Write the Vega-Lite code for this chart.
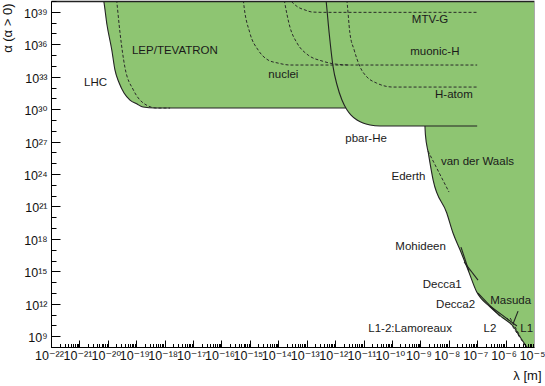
{
  "$schema": "https://vega.github.io/schema/vega-lite/v6.json",
  "width": 483,
  "height": 346,
  "autosize": {"type": "none"},
  "padding": {"left": 51, "top": 1, "right": 11, "bottom": 39},
  "background": "white",
  "config": {
    "view": {"stroke": null},
    "axis": {
      "grid": false,
      "domainColor": "#000",
      "tickColor": "#000",
      "labelColor": "#111",
      "labelFont": "Liberation Sans, DejaVu Sans, sans-serif",
      "labelFontSize": 12.5,
      "titleFont": "Liberation Sans, DejaVu Sans, sans-serif",
      "titleFontSize": 13,
      "titleFontWeight": "normal",
      "titleColor": "#111",
      "labelOverlap": false,
      "labelFlush": false
    }
  },
  "datasets": {
    "boundary": [
      {"lambda": 5.62e-21, "alpha": 1e41},
      {"lambda": 7.08e-21, "alpha": 1.26e40},
      {"lambda": 9.33e-21, "alpha": 6.31e37},
      {"lambda": 1.38e-20, "alpha": 2.95e35},
      {"lambda": 1.78e-20, "alpha": 4.17e33},
      {"lambda": 2.51e-20, "alpha": 2.57e32},
      {"lambda": 3.72e-20, "alpha": 3.09e31},
      {"lambda": 6.03e-20, "alpha": 6.92e30},
      {"lambda": 1.07e-19, "alpha": 2.95e30},
      {"lambda": 1.74e-19, "alpha": 1.55e30},
      {"lambda": 4.57e-19, "alpha": 1.26e30},
      {"lambda": 2.40e-12, "alpha": 1.26e30},
      {"lambda": 2.63e-12, "alpha": 8.32e29},
      {"lambda": 3.63e-12, "alpha": 2.82e29},
      {"lambda": 5.89e-12, "alpha": 9.77e28},
      {"lambda": 9.55e-12, "alpha": 5.13e28},
      {"lambda": 1.70e-11, "alpha": 3.39e28},
      {"lambda": 3.80e-11, "alpha": 2.75e28},
      {"lambda": 1.45e-9, "alpha": 2.75e28},
      {"lambda": 1.51e-9, "alpha": 3.98e27},
      {"lambda": 1.91e-9, "alpha": 8.71e25},
      {"lambda": 2.82e-9, "alpha": 2.75e23},
      {"lambda": 8.51e-9, "alpha": 2.45e20},
      {"lambda": 1.41e-8, "alpha": 3.47e18},
      {"lambda": 2.51e-8, "alpha": 9.33e16},
      {"lambda": 4.79e-8, "alpha": 1.32e15},
      {"lambda": 9.55e-8, "alpha": 1.29e13},
      {"lambda": 2.82e-7, "alpha": 5.25e11},
      {"lambda": 8.13e-7, "alpha": 4.79e10},
      {"lambda": 1.82e-6, "alpha": 8.71e9},
      {"lambda": 3.24e-6, "alpha": 8.32e8},
      {"lambda": 5.62e-6, "alpha": 9.77e7},
      {"lambda": 1e-5, "alpha": 1.17e7}
    ],
    "solid": [
      {"curve": "LHC", "seq": 1, "lambda": 5.62e-21, "alpha": 1e41},
      {"curve": "LHC", "seq": 2, "lambda": 7.08e-21, "alpha": 1.26e40},
      {"curve": "LHC", "seq": 3, "lambda": 9.33e-21, "alpha": 6.31e37},
      {"curve": "LHC", "seq": 4, "lambda": 1.38e-20, "alpha": 2.95e35},
      {"curve": "LHC", "seq": 5, "lambda": 1.78e-20, "alpha": 4.17e33},
      {"curve": "LHC", "seq": 6, "lambda": 2.51e-20, "alpha": 2.57e32},
      {"curve": "LHC", "seq": 7, "lambda": 3.72e-20, "alpha": 3.09e31},
      {"curve": "LHC", "seq": 8, "lambda": 6.03e-20, "alpha": 6.92e30},
      {"curve": "LHC", "seq": 9, "lambda": 1.07e-19, "alpha": 2.95e30},
      {"curve": "LHC", "seq": 10, "lambda": 1.74e-19, "alpha": 1.55e30},
      {"curve": "LHC", "seq": 11, "lambda": 4.57e-19, "alpha": 1.26e30},
      {"curve": "LHC", "seq": 12, "lambda": 2.40e-12, "alpha": 1.26e30},
      {"curve": "pbar-He", "seq": 1, "lambda": 4.37e-13, "alpha": 1.05e41},
      {"curve": "pbar-He", "seq": 2, "lambda": 4.79e-13, "alpha": 1.23e40},
      {"curve": "pbar-He", "seq": 3, "lambda": 6.17e-13, "alpha": 1.10e37},
      {"curve": "pbar-He", "seq": 4, "lambda": 8.51e-13, "alpha": 7.76e33},
      {"curve": "pbar-He", "seq": 5, "lambda": 1.17e-12, "alpha": 1.70e32},
      {"curve": "pbar-He", "seq": 6, "lambda": 1.74e-12, "alpha": 6.92e30},
      {"curve": "pbar-He", "seq": 7, "lambda": 2.63e-12, "alpha": 8.32e29},
      {"curve": "pbar-He", "seq": 8, "lambda": 3.63e-12, "alpha": 2.82e29},
      {"curve": "pbar-He", "seq": 9, "lambda": 5.89e-12, "alpha": 9.77e28},
      {"curve": "pbar-He", "seq": 10, "lambda": 9.55e-12, "alpha": 5.13e28},
      {"curve": "pbar-He", "seq": 11, "lambda": 1.70e-11, "alpha": 3.39e28},
      {"curve": "pbar-He", "seq": 12, "lambda": 3.80e-11, "alpha": 2.75e28},
      {"curve": "pbar-He", "seq": 13, "lambda": 1e-7, "alpha": 2.75e28},
      {"curve": "Ederth", "seq": 1, "lambda": 1.45e-9, "alpha": 2.75e28},
      {"curve": "Ederth", "seq": 2, "lambda": 1.51e-9, "alpha": 3.98e27},
      {"curve": "Ederth", "seq": 3, "lambda": 1.91e-9, "alpha": 8.71e25},
      {"curve": "Ederth", "seq": 4, "lambda": 2.82e-9, "alpha": 2.75e23},
      {"curve": "Ederth", "seq": 5, "lambda": 8.51e-9, "alpha": 2.45e20},
      {"curve": "Ederth", "seq": 6, "lambda": 1.41e-8, "alpha": 3.47e18},
      {"curve": "Ederth", "seq": 7, "lambda": 2.51e-8, "alpha": 9.33e16},
      {"curve": "Ederth", "seq": 8, "lambda": 4.79e-8, "alpha": 1.32e15},
      {"curve": "Ederth", "seq": 9, "lambda": 9.55e-8, "alpha": 1.29e13},
      {"curve": "Ederth", "seq": 10, "lambda": 2.82e-7, "alpha": 5.25e11},
      {"curve": "Ederth", "seq": 11, "lambda": 8.13e-7, "alpha": 4.79e10},
      {"curve": "Ederth", "seq": 12, "lambda": 1.82e-6, "alpha": 8.71e9},
      {"curve": "Ederth", "seq": 13, "lambda": 3.24e-6, "alpha": 8.32e8},
      {"curve": "Ederth", "seq": 14, "lambda": 5.62e-6, "alpha": 9.77e7},
      {"curve": "Mohideen", "seq": 1, "lambda": 2.69e-8, "alpha": 1.74e17},
      {"curve": "Mohideen", "seq": 2, "lambda": 5.13e-8, "alpha": 1.05e15},
      {"curve": "Decca1", "seq": 1, "lambda": 3.47e-8, "alpha": 7.24e15},
      {"curve": "Decca1", "seq": 2, "lambda": 1.07e-7, "alpha": 1.55e14},
      {"curve": "Decca2", "seq": 1, "lambda": 1.07e-7, "alpha": 9.77e12},
      {"curve": "Decca2", "seq": 2, "lambda": 6.31e-7, "alpha": 7.24e10},
      {"curve": "Masuda", "seq": 1, "lambda": 2.75e-6, "alpha": 2.09e11},
      {"curve": "Masuda", "seq": 2, "lambda": 1.82e-6, "alpha": 1.32e10},
      {"curve": "L2", "seq": 1, "lambda": 2.82e-7, "alpha": 6.17e11},
      {"curve": "L2", "seq": 2, "lambda": 2.51e-6, "alpha": 8.71e9}
    ],
    "dashed": [
      {"curve": "LEP/TEVATRON", "seq": 1, "lambda": 1.95e-20, "alpha": 3.55e40},
      {"curve": "LEP/TEVATRON", "seq": 2, "lambda": 2.04e-20, "alpha": 1.23e40},
      {"curve": "LEP/TEVATRON", "seq": 3, "lambda": 2.69e-20, "alpha": 1.10e37},
      {"curve": "LEP/TEVATRON", "seq": 4, "lambda": 3.98e-20, "alpha": 7.76e33},
      {"curve": "LEP/TEVATRON", "seq": 5, "lambda": 7.94e-20, "alpha": 5.89e31},
      {"curve": "LEP/TEVATRON", "seq": 6, "lambda": 1.78e-19, "alpha": 3.63e30},
      {"curve": "LEP/TEVATRON", "seq": 7, "lambda": 5.25e-19, "alpha": 1.26e30},
      {"curve": "LEP/TEVATRON", "seq": 8, "lambda": 1.55e-18, "alpha": 1.26e30},
      {"curve": "nuclei", "seq": 1, "lambda": 5.75e-16, "alpha": 3.55e40},
      {"curve": "nuclei", "seq": 2, "lambda": 5.89e-16, "alpha": 1.23e40},
      {"curve": "nuclei", "seq": 3, "lambda": 1e-15, "alpha": 1.10e37},
      {"curve": "nuclei", "seq": 4, "lambda": 1.95e-15, "alpha": 2.95e35},
      {"curve": "nuclei", "seq": 5, "lambda": 4.37e-15, "alpha": 3.47e34},
      {"curve": "nuclei", "seq": 6, "lambda": 9.77e-15, "alpha": 1.82e34},
      {"curve": "nuclei", "seq": 7, "lambda": 2.57e-14, "alpha": 1.20e34},
      {"curve": "nuclei", "seq": 8, "lambda": 1e-7, "alpha": 1.20e34},
      {"curve": "muonic-H", "seq": 1, "lambda": 1.51e-14, "alpha": 3.55e40},
      {"curve": "muonic-H", "seq": 2, "lambda": 1.62e-14, "alpha": 1.23e40},
      {"curve": "muonic-H", "seq": 3, "lambda": 2.57e-14, "alpha": 3.89e37},
      {"curve": "muonic-H", "seq": 4, "lambda": 4.57e-14, "alpha": 1.29e36},
      {"curve": "muonic-H", "seq": 5, "lambda": 1.12e-13, "alpha": 1e35},
      {"curve": "muonic-H", "seq": 6, "lambda": 3.47e-13, "alpha": 2.82e34},
      {"curve": "muonic-H", "seq": 7, "lambda": 1e-12, "alpha": 1.48e34},
      {"curve": "muonic-H", "seq": 8, "lambda": 3.31e-12, "alpha": 1.20e34},
      {"curve": "MTV-G", "seq": 1, "lambda": 2.19e-14, "alpha": 1.91e40},
      {"curve": "MTV-G", "seq": 2, "lambda": 2.57e-14, "alpha": 1.23e40},
      {"curve": "MTV-G", "seq": 3, "lambda": 4.90e-14, "alpha": 2.75e39},
      {"curve": "MTV-G", "seq": 4, "lambda": 8.71e-14, "alpha": 1.48e39},
      {"curve": "MTV-G", "seq": 5, "lambda": 1.55e-13, "alpha": 9.55e38},
      {"curve": "MTV-G", "seq": 6, "lambda": 4.37e-13, "alpha": 8.91e38},
      {"curve": "MTV-G", "seq": 7, "lambda": 1e-7, "alpha": 8.91e38},
      {"curve": "H-atom", "seq": 1, "lambda": 2.40e-12, "alpha": 3.55e40},
      {"curve": "H-atom", "seq": 2, "lambda": 2.57e-12, "alpha": 1.23e40},
      {"curve": "H-atom", "seq": 3, "lambda": 3.31e-12, "alpha": 1.10e37},
      {"curve": "H-atom", "seq": 4, "lambda": 4.68e-12, "alpha": 2.95e35},
      {"curve": "H-atom", "seq": 5, "lambda": 7.59e-12, "alpha": 7.76e33},
      {"curve": "H-atom", "seq": 6, "lambda": 1.32e-11, "alpha": 9.33e32},
      {"curve": "H-atom", "seq": 7, "lambda": 2.88e-11, "alpha": 2.57e32},
      {"curve": "H-atom", "seq": 8, "lambda": 1.10e-10, "alpha": 1.10e32},
      {"curve": "H-atom", "seq": 9, "lambda": 1e-7, "alpha": 1.10e32},
      {"curve": "van der Waals", "seq": 1, "lambda": 1.86e-9, "alpha": 1.32e26},
      {"curve": "van der Waals", "seq": 2, "lambda": 1.02e-8, "alpha": 2.14e22},
      {"curve": "L1", "seq": 1, "lambda": 1.12e-6, "alpha": 4.79e10},
      {"curve": "L1", "seq": 2, "lambda": 5.62e-6, "alpha": 7.94e7},
      {"curve": "L1b", "seq": 1, "lambda": 1.45e-6, "alpha": 4.79e10},
      {"curve": "L1b", "seq": 2, "lambda": 3.24e-6, "alpha": 1.02e9}
    ],
    "labels": [
      {"label": "LHC", "lambda": 3.72e-21, "alpha": 2.75e32},
      {"label": "LEP/TEVATRON", "lambda": 2.29e-18, "alpha": 2.51e35},
      {"label": "nuclei", "lambda": 1.51e-14, "alpha": 1.41e33},
      {"label": "MTV-G", "lambda": 2.19e-9, "alpha": 1.74e38},
      {"label": "muonic-H", "lambda": 3.24e-9, "alpha": 1.78e35},
      {"label": "H-atom", "lambda": 1.51e-8, "alpha": 2.0e31},
      {"label": "pbar-He", "lambda": 1.23e-11, "alpha": 1.70e27},
      {"label": "van der Waals", "lambda": 1.02e-7, "alpha": 1.20e25},
      {"label": "Ederth", "lambda": 3.80e-10, "alpha": 4.90e23},
      {"label": "Mohideen", "lambda": 1.02e-9, "alpha": 1.86e17},
      {"label": "Decca1", "lambda": 5.89e-9, "alpha": 5.37e13},
      {"label": "Decca2", "lambda": 1.74e-8, "alpha": 7.59e11},
      {"label": "Masuda", "lambda": 1.51e-6, "alpha": 1.91e12},
      {"label": "L1-2:Lamoreaux", "lambda": 4.37e-10, "alpha": 4.57e9},
      {"label": "L2", "lambda": 2.82e-7, "alpha": 4.57e9},
      {"label": "L1", "lambda": 5.50e-6, "alpha": 4.57e9}
    ]
  },
  "resolve": {"axis": {"x": "independent", "y": "independent"}},
  "layer": [
    {
      "data": {"name": "boundary"},
      "mark": {"type": "area", "color": "#8ec572", "clip": true, "interpolate": "monotone", "opacity": 1},
      "encoding": {
        "x": {
          "field": "lambda", "type": "quantitative",
          "scale": {"type": "log", "domain": [1e-22, 1e-5], "nice": false},
          "axis": {
            "orient": "bottom", "zindex": 1,
            "values": [1e-22, 1e-21, 1e-20, 1e-19, 1e-18, 1e-17, 1e-16, 1e-15, 1e-14, 1e-13, 1e-12, 1e-11, 1e-10, 1e-9, 1e-8, 1e-7, 1e-6, 1e-5],
            "tickSize": -7, "labelPadding": 9, "labelOffset": -2, "domainWidth": 1,
            "labelExpr": "'10' + replace(replace(replace(replace(replace(replace(replace(replace(replace(replace(replace('' + round(log(datum.value)/LN10), regexp('-','g'), '⁻'), regexp('0','g'), '⁰'), regexp('1','g'), '¹'), regexp('2','g'), '²'), regexp('3','g'), '³'), regexp('4','g'), '⁴'), regexp('5','g'), '⁵'), regexp('6','g'), '⁶'), regexp('7','g'), '⁷'), regexp('8','g'), '⁸'), regexp('9','g'), '⁹')",
            "title": "λ [m]", "titleX": 490, "titleY": 28, "titleAlign": "right", "titleBaseline": "middle"
          }
        },
        "y": {
          "field": "alpha", "type": "quantitative",
          "scale": {"type": "log", "domain": [1e8, 1e40], "nice": false},
          "axis": {
            "orient": "left", "zindex": 1,
            "values": [1e9, 1e12, 1e15, 1e18, 1e21, 1e24, 1e27, 1e30, 1e33, 1e36, 1e39],
            "tickSize": -9, "labelPadding": 13, "labelOffset": 1.5, "domainWidth": 1,
            "labelExpr": "'10' + replace(replace(replace(replace(replace(replace(replace(replace(replace(replace(replace('' + round(log(datum.value)/LN10), regexp('-','g'), '⁻'), regexp('0','g'), '⁰'), regexp('1','g'), '¹'), regexp('2','g'), '²'), regexp('3','g'), '³'), regexp('4','g'), '⁴'), regexp('5','g'), '⁵'), regexp('6','g'), '⁶'), regexp('7','g'), '⁷'), regexp('8','g'), '⁸'), regexp('9','g'), '⁹')",
            "title": "α (α > 0)", "titleAngle": -90, "titleX": -44, "titleY": 2, "titleAlign": "right", "titleBaseline": "middle"
          }
        },
        "y2": {"datum": 1e40}
      }
    },
    {
      "data": {"name": "solid"},
      "mark": {"type": "line", "color": "#222222", "strokeWidth": 1.1, "clip": true, "interpolate": "monotone"},
      "encoding": {
        "x": {
          "field": "lambda", "type": "quantitative",
          "scale": {"type": "log", "domain": [1e-22, 1e-5], "nice": false},
          "axis": {"orient": "bottom", "zindex": 1, "tickCount": 60, "tickSize": -3.5, "labels": false, "domain": false, "title": null}
        },
        "y": {
          "field": "alpha", "type": "quantitative",
          "scale": {"type": "log", "domain": [1e8, 1e40], "nice": false},
          "axis": {
            "orient": "left", "zindex": 1,
            "values": [1e8, 1e9, 1e10, 1e11, 1e12, 1e13, 1e14, 1e15, 1e16, 1e17, 1e18, 1e19, 1e20, 1e21, 1e22, 1e23, 1e24, 1e25, 1e26, 1e27, 1e28, 1e29, 1e30, 1e31, 1e32, 1e33, 1e34, 1e35, 1e36, 1e37, 1e38, 1e39, 1e40],
            "tickSize": -5, "labels": false, "domain": false, "title": null
          }
        },
        "detail": {"field": "curve"},
        "order": {"field": "seq", "type": "quantitative"}
      }
    },
    {
      "data": {"name": "dashed"},
      "mark": {"type": "line", "color": "#2a2a2a", "strokeWidth": 1, "strokeDash": [3, 2], "clip": true, "interpolate": "monotone"},
      "encoding": {
        "x": {
          "field": "lambda", "type": "quantitative",
          "scale": {"type": "log", "domain": [1e-22, 1e-5], "nice": false},
          "axis": {"orient": "top", "zindex": 1, "ticks": false, "labels": false, "domain": true, "domainWidth": 1.5, "domainColor": "#222", "title": null}
        },
        "y": {
          "field": "alpha", "type": "quantitative",
          "scale": {"type": "log", "domain": [1e8, 1e40], "nice": false},
          "axis": {"orient": "right", "zindex": 1, "ticks": false, "labels": false, "domain": true, "domainColor": "#aaaaaa", "domainWidth": 1, "title": null}
        },
        "detail": {"field": "curve"},
        "order": {"field": "seq", "type": "quantitative"}
      }
    },
    {
      "data": {"name": "labels"},
      "mark": {"type": "text", "font": "Liberation Sans", "fontSize": 11.5, "color": "#1a1a1a", "align": "center", "baseline": "middle"},
      "encoding": {
        "x": {"field": "lambda", "type": "quantitative", "scale": {"type": "log", "domain": [1e-22, 1e-5], "nice": false}, "axis": null},
        "y": {"field": "alpha", "type": "quantitative", "scale": {"type": "log", "domain": [1e8, 1e40], "nice": false}, "axis": null},
        "text": {"field": "label"}
      }
    }
  ]
}
